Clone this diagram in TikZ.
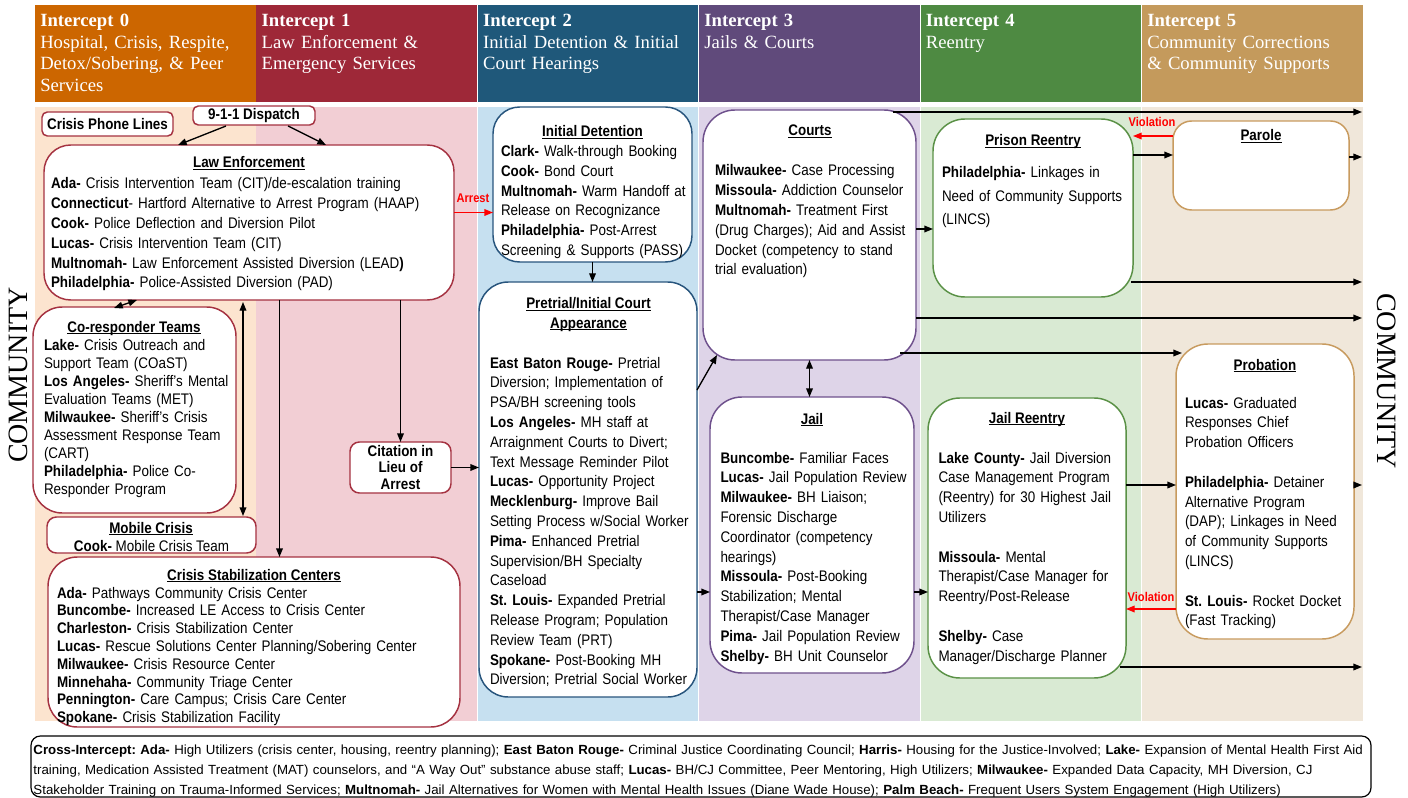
\documentclass[tikz,border=0pt]{standalone}
\usepackage{fontspec}
\setmainfont{Liberation Sans}[FakeStretch=0.875]
\newfontfamily\hdrfont{Liberation Serif}
\newfontfamily\botfont{Liberation Sans}
\usetikzlibrary{arrows.meta,calc}
\definecolor{hc0}{RGB}{204,102,0}
\definecolor{hc1}{RGB}{158,40,56}
\definecolor{hc2}{RGB}{31,88,122}
\definecolor{hc3}{RGB}{96,74,123}
\definecolor{hc4}{RGB}{78,138,66}
\definecolor{hc5}{RGB}{196,154,92}
\definecolor{bg0}{RGB}{252,228,207}
\definecolor{bg1}{RGB}{242,206,212}
\definecolor{bg2}{RGB}{198,224,240}
\definecolor{bg3}{RGB}{222,212,232}
\definecolor{bg4}{RGB}{217,234,211}
\definecolor{bg5}{RGB}{240,231,218}
\definecolor{bd1}{RGB}{165,50,65}
\definecolor{bd2}{RGB}{40,85,125}
\definecolor{bd3}{RGB}{110,80,140}
\definecolor{bd4}{RGB}{90,145,70}
\definecolor{bd5}{RGB}{200,155,95}
\definecolor{vred}{RGB}{255,0,0}
\newcommand\mybox[7][]{\node[box,#1,minimum width={(#5-#3)*0.75},minimum height={(#6-#4)*0.75}] (#2) at ({(#3+#5)/2},{(#4+#6)/2}) {#7};}
\newsavebox\ubox
\newcommand\ttlu[1]{\sbox\ubox{#1}\usebox\ubox\llap{\rule[-1.8pt]{\wd\ubox}{0.75pt}}}
\frenchspacing
\begin{document}
\frenchspacing
\begin{tikzpicture}[x=0.75pt,y=-0.75pt,
  box/.style={draw, fill=white, line width=1.1pt, inner sep=0pt, outer sep=0pt},
  body/.style={anchor=base west, inner sep=0pt, outer sep=0pt, text width=600pt, align=left, font=\fontsize{11.5}{14.85}\selectfont},
  ttl/.style={anchor=base, inner sep=0pt, outer sep=0pt, align=center, font=\bfseries\fontsize{11.5}{14.85}\selectfont},
  arr/.style={-{Triangle[length=6.5pt,width=5pt]}, line width=1pt},
  darr/.style={{Triangle[length=6.5pt,width=5pt]}-{Triangle[length=6.5pt,width=5pt]}, line width=1pt},
  rarr/.style={arr, draw=vred},
  rlbl/.style={anchor=base, inner sep=0pt, text=vred, font=\bfseries\fontsize{9.5}{11}\selectfont},
  hdr/.style={anchor=base west, inner sep=0pt, text width=200pt, align=left, text=white, font=\hdrfont\fontsize{14}{16.1}\selectfont},
  comm/.style={inner sep=0pt, font=\hdrfont\fontsize{21}{24}\selectfont},
  small/.style={font=\bfseries\fontsize{11.5}{12.4}\selectfont, align=center}
]
\fill[white] (0,0) rectangle (1408,798);
\useasboundingbox (0,0) rectangle (1408,798);
% columns
\foreach \i in {0,...,5}{
  \fill[hc\i] ({35+221.4*\i},5) rectangle ({35+221.4*\i+220.5},102);
  \fill[bg\i] ({35+221.4*\i},107) rectangle ({35+221.4*\i+220.5},721);
}
% headers
\node[hdr] (t0) at (40,27) {\textbf{Intercept 0}\\Hospital, Crisis, Respite,\\Detox/Sobering, \& Peer\\Services};
\node[hdr] (t1) at (261.4,27) {\textbf{Intercept 1}\\Law Enforcement \&\\Emergency Services};
\node[hdr] (t2) at (482.8,27) {\textbf{Intercept 2}\\Initial Detention \& Initial\\Court Hearings};
\node[hdr] (t3) at (704.2,27) {\textbf{Intercept 3}\\Jails \& Courts};
\node[hdr] (t4) at (925.6,27) {\textbf{Intercept 4}\\Reentry};
\node[hdr] (t5) at (1147,27) {\textbf{Intercept 5}\\Community Corrections\\\& Community Supports};
% community labels
\node[comm, rotate=90] (cl) at (18,375) {COMMUNITY};
\node[comm, rotate=-90] (cr) at (1387,381) {COMMUNITY};

% ---------- boxes ----------
\mybox[draw=bd1, rounded corners=4pt, small]{phone}{42}{112}{173}{136}{Crisis Phone Lines}
\mybox[draw=bd1, rounded corners=4pt, small]{disp}{193}{106}{315}{125}{9-1-1 Dispatch}
\mybox[draw=bd1, rounded corners=20pt]{le}{44}{145}{454}{300}{}
\mybox[draw=bd1, rounded corners=22pt]{cor}{33}{307}{236}{513}{}
\mybox[draw=bd1, rounded corners=7pt]{mob}{47}{517}{256}{553}{}
\mybox[draw=bd1, rounded corners=22pt]{csc}{48}{557}{460}{727}{}
\mybox[draw=bd1, rounded corners=7pt, small]{cit}{350}{442}{451}{493}{Citation in\\Lieu of\\Arrest}
\mybox[draw=bd2, rounded corners=20pt]{idet}{493}{107}{692}{262}{}
\mybox[draw=bd2, rounded corners=22pt]{pre}{479}{282}{697}{697}{}
\mybox[draw=bd3, rounded corners=24pt]{crt}{703}{110}{916}{360}{}
\mybox[draw=bd3, rounded corners=24pt]{jail}{710}{397}{914}{673}{}
\mybox[draw=bd4, rounded corners=24pt]{pri}{933}{119}{1133}{297}{}
\mybox[draw=bd4, rounded corners=24pt]{jre}{928}{398}{1126}{678}{}
\mybox[draw=bd5, rounded corners=14pt]{par}{1173}{121}{1349}{210}{}
\mybox[draw=bd5, rounded corners=24pt]{prob}{1176}{344}{1354}{639}{}
\mybox[draw=black, line width=0.9pt, rounded corners=7pt]{cross}{31}{736}{1371}{797}{}

% ---------- texts ----------
\node[ttl] (le-t) at (249,168) {\ttlu{Law Enforcement}};
\node[body] (le-b) at (51,189) {\textbf{Ada-} Crisis Intervention Team (CIT)/de-escalation training\\
\textbf{Connecticut}- Hartford Alternative to Arrest Program (HAAP)\\
\textbf{Cook-} Police Deflection and Diversion Pilot\\
\textbf{Lucas-} Crisis Intervention Team (CIT)\\
\textbf{Multnomah-} Law Enforcement Assisted Diversion (LEAD\textbf{)}\\
\textbf{Philadelphia-} Police-Assisted Diversion (PAD)};

\node[ttl] (cor-t) at (134,332) {\ttlu{Co-responder Teams}};
\node[body, font=\fontsize{11.5}{13.5}\selectfont] (cor-b) at (44,350) {\textbf{Lake-} Crisis Outreach and\\Support Team (COaST)\\\textbf{Los Angeles-} Sheriff’s Mental\\Evaluation Teams (MET)\\\textbf{Milwaukee-} Sheriff’s Crisis\\Assessment Response Team\\(CART)\\\textbf{Philadelphia-} Police Co-\\Responder Program};

\node[ttl] (mob-t) at (151,533) {\ttlu{Mobile Crisis}};
\node[ttl, font=\fontsize{11.5}{13.5}\selectfont] (mob-b) at (151.5,551) {\textbf{Cook-} Mobile Crisis Team};

\node[ttl] (csc-t) at (254,580) {\ttlu{Crisis Stabilization Centers}};
\node[body, font=\fontsize{11.5}{13.35}\selectfont] (csc-b) at (57,598) {\textbf{Ada-} Pathways Community Crisis Center\\\textbf{Buncombe-} Increased LE Access to Crisis Center\\\textbf{Charleston-} Crisis Stabilization Center\\\textbf{Lucas-} Rescue Solutions Center Planning/Sobering Center\\\textbf{Milwaukee-} Crisis Resource Center\\\textbf{Minnehaha-} Community Triage Center\\\textbf{Pennington-} Care Campus; Crisis Care Center\\\textbf{Spokane-} Crisis Stabilization Facility};

\node[ttl] (idet-t) at (592.5,136.5) {\ttlu{Initial Detention}};
\node[body] (idet-b) at (501,156.5) {\textbf{Clark-} Walk-through Booking\\\textbf{Cook-} Bond Court\\\textbf{Multnomah-} Warm Handoff at\\Release on Recognizance\\\textbf{Philadelphia-} Post-Arrest\\Screening \& Supports (PASS)};

\node[ttl] (pre-t) at (588.5,328) {\ttlu{Pretrial/Initial Court}\\\ttlu{Appearance}};
\node[body] (pre-b) at (490,368) {\textbf{East Baton Rouge-} Pretrial\\Diversion; Implementation of\\PSA/BH screening tools\\\textbf{Los Angeles-} MH staff at\\Arraignment Courts to Divert;\\Text Message Reminder Pilot\\\textbf{Lucas-} Opportunity Project\\\textbf{Mecklenburg-} Improve Bail\\Setting Process w/Social Worker\\\textbf{Pima-} Enhanced Pretrial\\Supervision/BH Specialty\\Caseload\\\textbf{St. Louis-} Expanded Pretrial\\Release Program; Population\\Review Team (PRT)\\\textbf{Spokane-} Post-Booking MH\\Diversion; Pretrial Social Worker};

\node[ttl] (crt-t) at (810,136) {\ttlu{Courts}};
\node[body] (crt-b) at (715,176) {\textbf{Milwaukee-} Case Processing\\\textbf{Missoula-} Addiction Counselor\\\textbf{Multnomah-} Treatment First\\(Drug Charges); Aid and Assist\\Docket (competency to stand\\trial evaluation)};

\node[ttl] (jail-t) at (812,424) {\ttlu{Jail}};
\node[body] (jail-b) at (720.5,463) {\textbf{Buncombe-} Familiar Faces\\\textbf{Lucas-} Jail Population Review\\\textbf{Milwaukee-} BH Liaison;\\Forensic Discharge\\Coordinator (competency\\hearings)\\\textbf{Missoula-} Post-Booking\\Stabilization; Mental\\Therapist/Case Manager\\\textbf{Pima-} Jail Population Review\\\textbf{Shelby-} BH Unit Counselor};

\node[ttl] (pri-t) at (1033,146) {\ttlu{Prison Reentry}};
\node[body, font=\fontsize{11.5}{17.7}\selectfont] (pri-b) at (942,177.5) {\textbf{Philadelphia-} Linkages in\\Need of Community Supports\\(LINCS)};

\node[ttl] (par-t) at (1261,141) {\ttlu{Parole}};

\node[ttl] (jre-t) at (1027,423) {\ttlu{Jail Reentry}};
\node[body] (jre-b) at (938.5,463) {\textbf{Lake County-} Jail Diversion\\Case Management Program\\(Reentry) for 30 Highest Jail\\Utilizers\\[14.85pt]\textbf{Missoula-} Mental\\Therapist/Case Manager for\\Reentry/Post-Release\\[14.85pt]\textbf{Shelby-} Case\\Manager/Discharge Planner};

\node[ttl] (prob-t) at (1265,370) {\ttlu{Probation}};
\node[body] (prob-b) at (1185,408) {\textbf{Lucas-} Graduated\\Responses Chief\\Probation Officers\\[14.85pt]\textbf{Philadelphia-} Detainer\\Alternative Program\\(DAP); Linkages in Need\\of Community Supports\\(LINCS)\\[14.85pt]\textbf{St. Louis-} Rocket Docket\\(Fast Tracking)};

\node[body, text width=1100pt, font=\botfont\fontsize{9.95}{15}\selectfont] (cross-b) at (33.5,754) {\textbf{Cross-Intercept: Ada-} High Utilizers (crisis center, housing, reentry planning); \textbf{East Baton Rouge-} Criminal Justice Coordinating Council; \textbf{Harris-} Housing for the Justice-Involved; \textbf{Lake-} Expansion of Mental Health First Aid\\
training, Medication Assisted Treatment (MAT) counselors, and “A Way Out” substance abuse staff; \textbf{Lucas-} BH/CJ Committee, Peer Mentoring, High Utilizers; \textbf{Milwaukee-} Expanded Data Capacity, MH Diversion, CJ\\
Stakeholder Training on Trauma-Informed Services; \textbf{Multnomah-} Jail Alternatives for Women with Mental Health Issues (Diane Wade House); \textbf{Palm Beach-} Frequent Users System Engagement (High Utilizers)};

% ---------- coordinates ----------
\coordinate (x279) at (279.5,0);
\coordinate (ya) at (0,212.5);
\coordinate (y592) at (0,592);
\coordinate (y229) at (0,229);
\coordinate (y155) at (0,155);
\coordinate (y136) at (0,136);
\coordinate (y485) at (0,485);
\coordinate (y609) at (0,609);
\coordinate (e112) at (1362,112);
\coordinate (e318) at (1362,318);
\coordinate (e157) at (1362,157);
\coordinate (e282) at (1362,282);
\coordinate (e485) at (1362,485);
\coordinate (e667) at (1362,667);

% ---------- connectors ----------
\draw[arr] ($(disp.south west)+(33,1)$) -- ($(le.north west)+(134,0)$);
\draw[arr] ($(disp.south west)+(95,1)$) -- ($(le.north west)+(282,0)$);
\draw[darr] ($(le.south west)+(93,0)$) -- ($(cor.north west)+(81,1)$);
\draw[darr] ($(le.south west)+(199,2)$) -- ($(mob.north west)+(196,-1)$);
\draw[arr] (le.south -| x279) -- (csc.north -| x279);
\draw[arr] (le.south -| cit.north) -- (cit.north);
\draw[arr] (cit.east) -- (cit.east -| pre.west);
\draw[rarr] (le.east |- ya) -- (idet.west |- ya);
\node[rlbl] (arrest) at (473,203) {Arrest};
\draw[arr] (idet.south) -- (idet.south |- pre.north);
\draw[arr] ($(pre.north east)+(0,108)$) -- ($(crt.south west)+(14,-5)$);
\draw[arr] (pre.east |- y592) -- (jail.west |- y592);
\draw[darr] (crt.south) -- (crt.south |- jail.north);
\draw[arr] (crt.east |- y229) -- (pri.west |- y229);
\draw[arr] ($(crt.north east)+(-23,2)$) -- (e112);
\draw[arr] (crt.east |- e318) -- (e318);
\draw[arr] ($(crt.south east)+(-16,-7)$) -- ($(prob.north west)+(6,9)$);
\draw[arr] (jail.east |- y592) -- (jre.west |- y592);
\draw[arr] (pri.east |- y155) -- (par.west |- y155);
\draw[rarr] (par.west |- y136) -- (pri.east |- y136);
\node[rlbl] (viol1) at (1152,127) {Violation};
\draw[arr] (par.east |- e157) -- (e157);
\draw[arr] ($(pri.south east)+(-2,-15)$) -- (e282);
\draw[arr] (jre.east |- y485) -- (prob.west |- y485);
\draw[rarr] (prob.west |- y609) -- (jre.east |- y609);
\node[rlbl] (viol2) at (1151,601) {Violation};
\draw[arr] (prob.east |- e485) -- (e485);
\draw[arr] ($(jre.south east)+(-6,-11)$) -- (e667);
\end{tikzpicture}
\end{document}
